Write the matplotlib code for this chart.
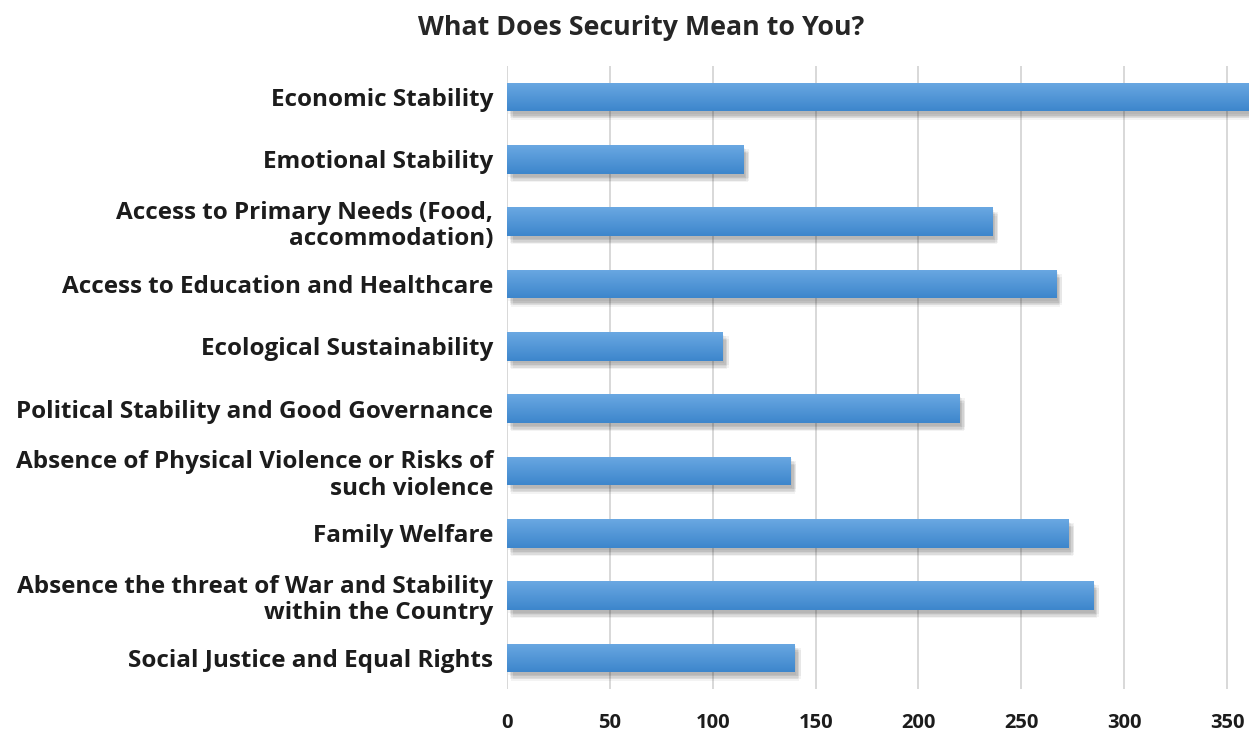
import matplotlib
matplotlib.use("Agg")
import matplotlib.pyplot as plt
import matplotlib.patheffects as pe
import numpy as np

plt.rcParams['font.family'] = ['Open Sans', 'DejaVu Sans']

# Data (top to bottom)
categories = [
    "Economic Stability",
    "Emotional Stability",
    "Access to Primary Needs (Food,\naccommodation)",
    "Access to Education and Healthcare",
    "Ecological Sustainability",
    "Political Stability and Good Governance",
    "Absence of Physical Violence or Risks of\nsuch violence",
    "Family Welfare",
    "Absence the threat of War and Stability\nwithin the Country",
    "Social Justice and Equal Rights",
]
values = [380, 115, 236, 267, 105, 220, 138, 273, 285, 140]
xticks = [0, 50, 100, 150, 200, 250, 300, 350]

W, H = 1249, 731
fig = plt.figure(figsize=(W / 100, H / 100), dpi=100)
ax = fig.add_axes([507 / W, 1 - 689 / H, (W - 507) / W, (689 - 66) / H])

y = np.arange(len(categories))
bar_h = 0.46
# soft shadow: several faint offset copies
shadow = [pe.SimplePatchShadow(offset=(dx, -dy), alpha=0.06, shadow_rgbFace="#333333")
          for dx, dy in [(1, 2), (2, 3), (3, 4), (2, 5), (4, 3), (3, 6), (4, 5)]]
bars = ax.barh(y, values, height=bar_h, color="#4d92d8", zorder=3,
               path_effects=shadow + [pe.Normal()])

# vertical gradient on each bar
grad = np.linspace(0, 1, 64).reshape(-1, 1)
cmap = matplotlib.colors.LinearSegmentedColormap.from_list(
    "bar", ["#6aa8e2", "#3d86cc"])
for b in bars:
    x0, y0 = b.get_x(), b.get_y()
    im = ax.imshow(grad, extent=(x0, x0 + b.get_width(), y0 + b.get_height(), y0),
                   cmap=cmap, aspect="auto", zorder=4, interpolation="bilinear")
    im.set_clip_path(b)

ax.set_xlim(0, 360.7)
ax.set_ylim(len(categories) - 0.5, -0.5)
ax.set_xticks(xticks)
ax.set_xticklabels([str(t) for t in xticks])
ax.set_yticks(y)
ax.set_yticklabels(categories)

for s in ax.spines.values():
    s.set_visible(False)
ax.grid(axis="x", color="#d6d6d6", linewidth=1.3, zorder=0)
ax.tick_params(axis="both", length=0)
ax.tick_params(axis="x", pad=17, labelsize=14.5)
ax.tick_params(axis="y", pad=10, labelsize=17.5)
for lab in ax.get_xticklabels() + ax.get_yticklabels():
    lab.set_fontweight("bold")
    lab.set_color("#1c1c1c")
for lab in ax.get_yticklabels():
    lab.set_linespacing(1.15)
    lab.set_horizontalalignment("right")
    lab.set_multialignment("right")

fig.text(641 / W, 1 - 28 / H, "What Does Security Mean to You?", ha="center",
         va="center", fontsize=19.3, fontweight="bold", color="#262626")

fig.savefig("out.png", dpi=100)
